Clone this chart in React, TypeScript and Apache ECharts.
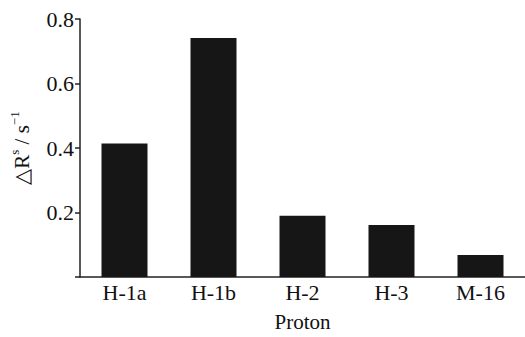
import React, { useEffect, useRef } from "react";
import * as echarts from "echarts";

const categories = ["H-1a", "H-1b", "H-2", "H-3", "M-16"];
const values = [0.414, 0.741, 0.19, 0.161, 0.068];
const yTicks = [0.2, 0.4, 0.6, 0.8];

const FONT = "Liberation Serif";

export default function App() {
  const ref = useRef<HTMLDivElement>(null);
  useEffect(() => {
    if (!ref.current) return;
    const chart = echarts.init(ref.current, null, { renderer: "svg" });
    chart.setOption({
      animation: false,
      textStyle: { fontFamily: FONT },
      grid: { left: 78, top: 19, width: 455, height: 265 },
      xAxis: {
        type: "category",
        data: categories,
        name: "Proton",
        nameLocation: "middle",
        nameGap: 34,
        nameTextStyle: { fontFamily: FONT, fontSize: 21, color: "#111" },
        axisLine: { lineStyle: { color: "#222", width: 1.5 } },
        axisTick: { show: false },
        axisLabel: { fontFamily: FONT, fontSize: 22, color: "#111", margin: 4 },
      },
      yAxis: {
        type: "value",
        min: 0,
        max: 0.8,
        interval: 0.2,
        name: "{a|△R}{sup|s}{a| / s}{sup|−1}",
        nameLocation: "middle",
        nameRotate: 90,
        nameGap: 48,
        nameTextStyle: {
          fontFamily: FONT,
          fontSize: 21,
          color: "#111",
          rich: {
            a: { fontFamily: FONT, fontSize: 21, color: "#111", lineHeight: 24, verticalAlign: "bottom" },
            sup: { fontFamily: FONT, fontSize: 13, color: "#111", lineHeight: 24, verticalAlign: "top", padding: [0, 0, 7, 0] },
          },
        },
        splitLine: { show: false },
        axisLine: { show: true, lineStyle: { color: "#222", width: 1.5 } },
        axisTick: { show: true, inside: false, length: 5, lineStyle: { color: "#222", width: 1.5 } },
        axisLabel: {
          fontFamily: FONT,
          fontSize: 22,
          color: "#111",
          margin: 6,
          formatter: (v: number) => {
            const t = yTicks.find((x) => Math.abs(x - v) < 1e-9);
            return t === undefined ? "" : t.toFixed(1);
          },
        },
      },
      series: [
        {
          type: "bar",
          data: values,
          barWidth: 46,
          itemStyle: { color: "#161616" },
        },
      ],
    });
    return () => chart.dispose();
  }, []);
  return (
    <div
      ref={ref}
      style={{ position: "absolute", left: 0, top: 0, width: 525, height: 337, background: "#fff" }}
    />
  );
}
